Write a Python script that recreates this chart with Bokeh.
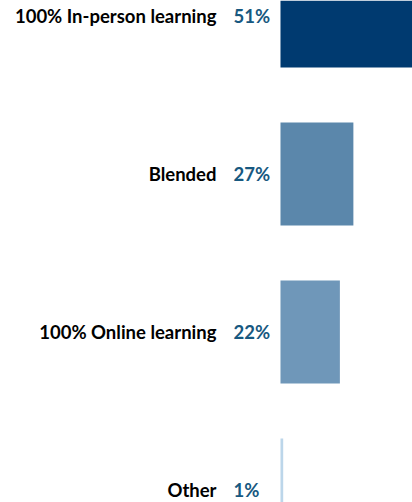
from bokeh.plotting import figure
from bokeh.models import ColumnDataSource, Range1d, FixedTicker
from bokeh.embed import file_html
from bokeh.resources import INLINE
from bokeh.core.properties import value

categories = ["100% In-person learning", "Blended", "100% Online learning", "Other"]
shares = [51, 27, 22, 1]
share_labels = ["51%", "27%", "22%", "1%"]
bar_colors = ["#003A70", "#5B87AB", "#6F97B9", "#BCD6EA"]
positions = [0, 1, 2, 3]

src = ColumnDataSource(dict(y=positions, v=shares, lab=share_labels, c=bar_colors,
                            zero=[0] * len(shares)))

p = figure(width=412, height=502, output_backend="svg", toolbar_location=None,
           x_range=Range1d(-20, 48.9), y_range=Range1d(3.079, -0.098),
           min_border_left=226, min_border_right=0, min_border_top=0, min_border_bottom=0)

p.hbar(y="y", left=0, right="v", height=0.652, color="c", line_color=None, source=src)
p.text(x="zero", y="y", text="lab", source=src, x_offset=-47, text_align="left",
       text_baseline="middle", text_font=value("Lato"), text_font_style="bold",
       text_font_size="18.5px", text_color="#175880")

p.xaxis.visible = False
p.yaxis.ticker = FixedTicker(ticks=positions)
p.yaxis.major_label_overrides = {i: c for i, c in zip(positions, categories)}
p.yaxis.major_label_text_font = "Lato"
p.yaxis.major_label_text_font_style = "bold"
p.yaxis.major_label_text_font_size = "18.5px"
p.yaxis.major_label_text_color = "#000000"
p.yaxis.major_label_standoff = 10
p.yaxis.axis_line_color = None
p.yaxis.major_tick_line_color = None
p.yaxis.minor_tick_line_color = None
p.yaxis.major_tick_out = 0
p.yaxis.major_tick_in = 0
p.xgrid.visible = False
p.ygrid.visible = False
p.outline_line_color = None

open("out.html", "w").write(file_html(p, INLINE))
